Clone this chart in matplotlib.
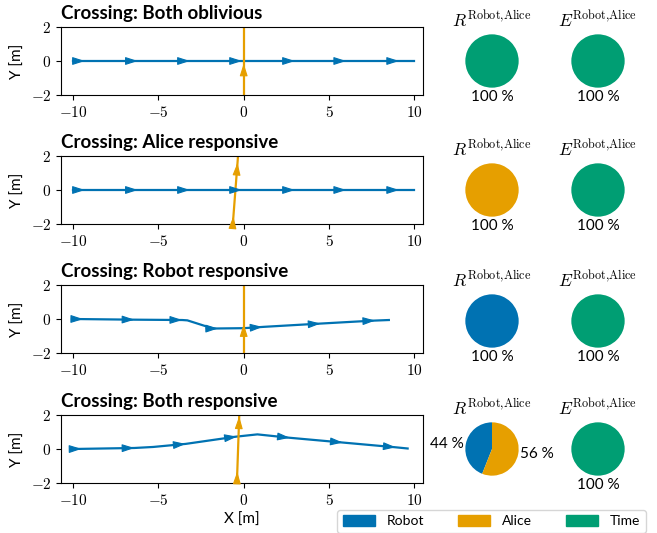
import numpy as np
import matplotlib
matplotlib.use("Agg")
import matplotlib.pyplot as plt
from matplotlib.patches import Patch
from matplotlib.ticker import FuncFormatter

plt.rcParams["font.family"] = ["Lato", "DejaVu Sans"]
plt.rcParams["mathtext.fontset"] = "cm"

# colours for robot / alice / time
c_robot = "#0072B2"
c_alice = "#E69F00"
c_time = "#009E73"

scenarios = ["Crossing: Both oblivious", "Crossing: Alice responsive",
             "Crossing: Robot responsive", "Crossing: Both responsive"]

# robot paths (x, y) per scenario
robot_x = [
    [-10, 10],
    [-10, 10],
    [-10, -6.4, -3.6, -3.3, -1.8, 0.0, 1.2, 4.3, 7.5, 8.5],
    [-10, -6.4, -5.3, -3.4, -0.5, 0.8, 2.7, 5.8, 8.9, 9.6],
]
robot_y = [
    [0, 0],
    [0, 0],
    [0, -0.04, -0.06, -0.08, -0.56, -0.54, -0.46, -0.28, -0.1, -0.06],
    [0, 0.06, 0.12, 0.3, 0.72, 0.86, 0.66, 0.38, 0.1, 0.03],
]
# x positions of the direction arrows on the robot path
robot_arrows = [
    [-9.3, -6.2, -3.15, -0.1, 3.0, 6.0, 9.1],
    [-9.3, -6.2, -3.15, -0.1, 3.0, 6.0, 9.1],
    [-9.4, -6.4, -3.6, -1.5, 1.1, 4.5, 7.7],
    [-9.5, -6.4, -3.4, -0.4, 2.7, 5.8, 8.9],
]

# alice paths (x, y) per scenario
alice_x = [
    [0, 0],
    [-0.66, -0.31],
    [0, 0],
    [-0.41, -0.25],
]
alice_y = [
    [-2.5, 2.5],
    [-2.3, 2.3],
    [-2.5, 2.5],
    [-2.3, 2.3],
]
# y positions of the direction arrows on alice's path
alice_arrows = [
    [-0.15],
    [-1.55, 1.6],
    [-0.3],
    [-1.33, 1.92],
]

# shares in percent: robot, alice, time
resp_shares = [
    [0, 0, 100],
    [0, 100, 0],
    [100, 0, 0],
    [44, 56, 0],
]
eff_shares = [
    [0, 0, 100],
    [0, 0, 100],
    [0, 0, 100],
    [0, 0, 100],
]
share_names = ["Robot", "Alice", "Time"]
share_colors = [c_robot, c_alice, c_time]

W, H = 657, 533
fig = plt.figure(figsize=(W / 100, H / 100), dpi=100)

row_bottom = [95, 224, 353, 483]   # pixel rows of the path axes (bottom edge)
pie_cy = [61, 190, 321, 449]
pie_cx = [492, 598]


def draw_arrows(ax, px, py, positions, along_x, color):
    # little arrow heads sitting on the path, pointing along it
    px = np.asarray(px, float)
    py = np.asarray(py, float)
    for p in positions:
        if along_x:
            tip = (p, np.interp(p, px, py))
            prev = (p - 0.3, np.interp(p - 0.3, px, py))
        else:
            tip = (np.interp(p, py, px), p)
            prev = (np.interp(p - 0.3, py, px), p - 0.3)
        t = ax.transData.transform([tip, prev])
        d = t[0] - t[1]
        d = d / np.hypot(*d)
        off = -d * 12 * 72 / fig.dpi
        ax.annotate("", xy=tip, xytext=(off[0], off[1]),
                    textcoords="offset points",
                    arrowprops=dict(arrowstyle="-|>,head_length=0.75,head_width=0.24",
                                    mutation_scale=10, color=color, lw=0.8,
                                    shrinkA=0, shrinkB=0))


fmt = FuncFormatter(lambda v, pos: f"${v:g}$")

for i in range(4):
    b = row_bottom[i]
    ax = fig.add_axes([61 / W, 1 - b / H, 362 / W, 68 / H])
    ax.plot(robot_x[i], robot_y[i], color=c_robot, lw=1.6)
    ax.plot(alice_x[i], alice_y[i], color=c_alice, lw=1.6)
    ax.set_xlim(-10.7, 10.5)
    ax.set_ylim(-2, 2)
    ax.set_xticks([-10, -5, 0, 5, 10])
    ax.set_yticks([-2, 0, 2])
    ax.xaxis.set_major_formatter(fmt)
    ax.yaxis.set_major_formatter(fmt)
    ax.tick_params(labelsize=11)
    ax.set_ylabel("Y [m]", fontsize=11)
    ax.set_title(scenarios[i], loc="left", fontweight="bold", fontsize=13.5)
    draw_arrows(ax, robot_x[i], robot_y[i], robot_arrows[i], True, c_robot)
    draw_arrows(ax, alice_x[i], alice_y[i], alice_arrows[i], False, c_alice)
    if i == 3:
        ax.set_xlabel("X [m]", fontsize=11)

    for j, (shares, sym) in enumerate([(resp_shares[i], "R"), (eff_shares[i], "E")]):
        cx, cy = pie_cx[j], pie_cy[i]
        pax = fig.add_axes([(cx - 40) / W, 1 - (cy + 40) / H, 80 / W, 80 / H])
        vals = [v for v in shares if v > 0]
        cols = [c for v, c in zip(shares, share_colors) if v > 0]
        labels = [f"{v} %" for v in vals]
        wedges, texts = pax.pie(vals, colors=cols, labels=labels, startangle=90,
                                labeldistance=1.08, radius=1,
                                textprops=dict(fontsize=11))
        for t in texts:
            x, y = t.get_position()
            if abs(x) < 0.1:
                t.set_ha("center")
                t.set_va("top")
        pax.set_xlim(-1.5, 1.5)
        pax.set_ylim(-1.5, 1.5)
        pax.set_aspect("equal")
        pax.text(0, 1.3, rf"${sym}^{{\mathrm{{Robot{{,}}Alice}}}}$", ha="center",
                 va="baseline", fontsize=12.5)

handles = [Patch(color=c) for c in share_colors]
fig.legend(handles, share_names, ncol=3, loc="lower right",
           bbox_to_anchor=(646 / W, 0.0), borderaxespad=0, fontsize=10,
           handlelength=2.3, handleheight=0.8, columnspacing=2.4,
           handletextpad=0.9)

fig.savefig("out.png", dpi=100)
